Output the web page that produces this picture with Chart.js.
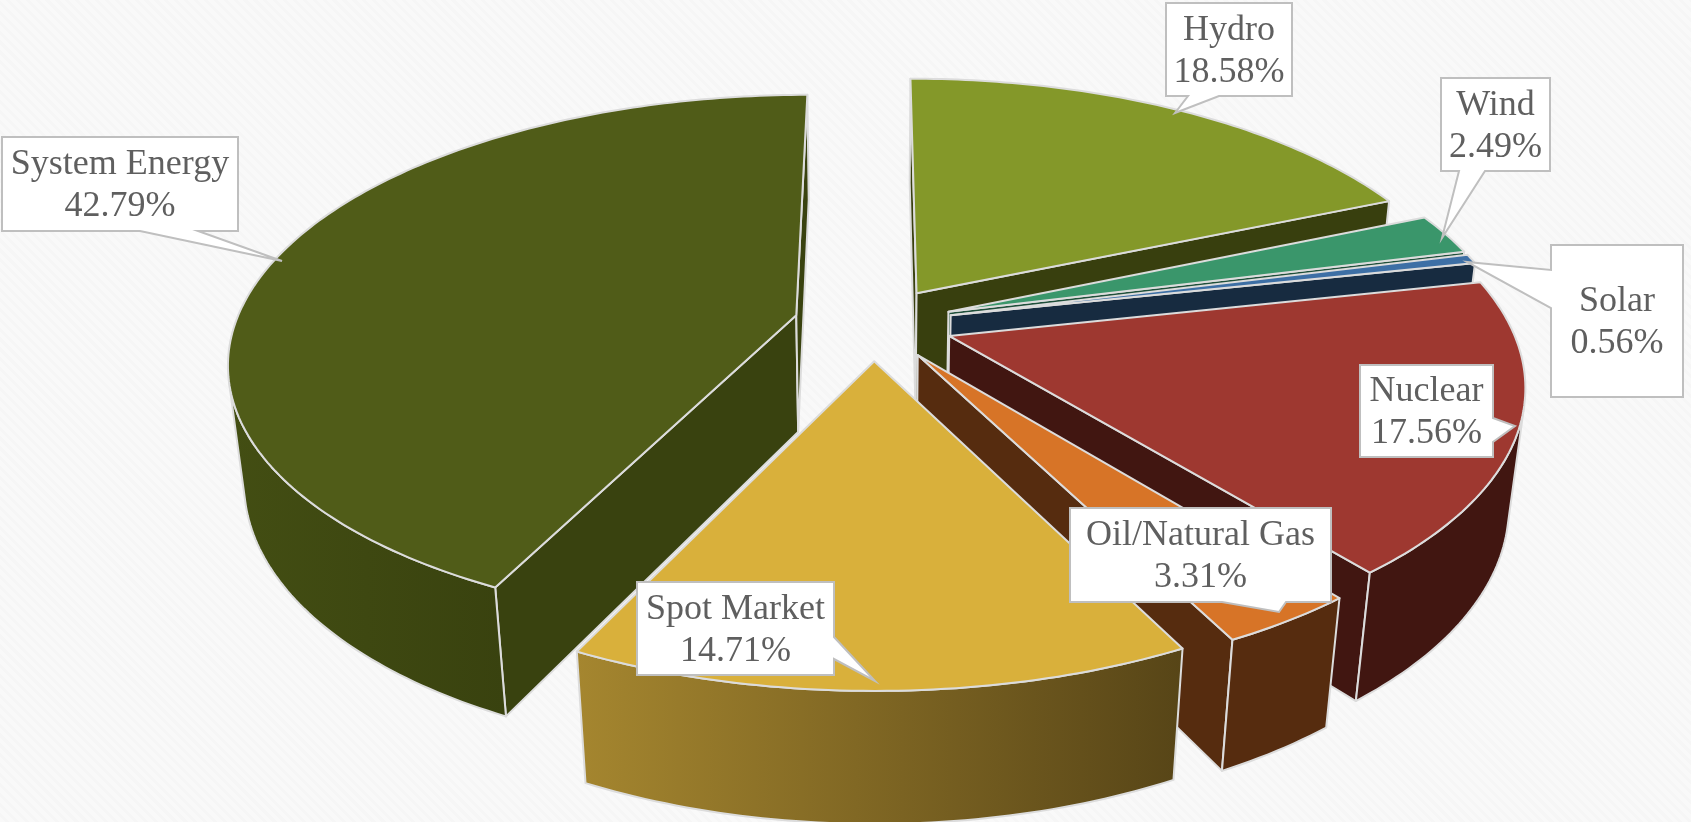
<!DOCTYPE html>
<html>
<head>
<meta charset="utf-8">
<title>Energy mix</title>
<script src="https://cdn.jsdelivr.net/npm/chart.js@4"></script>
<style>
  html, body { margin: 0; padding: 0; }
  body {
    background: repeating-linear-gradient(45deg, #f9f9f9 0, #f9f9f9 4px, #f6f6f6 4px, #f6f6f6 7px);
  }
  #wrap { width: 1691px; height: 822px; position: relative; }
</style>
</head>
<body>
<div id="wrap"><canvas id="mixChart"></canvas></div>
<script>
const sources = ["Hydro", "Wind", "Solar", "Nuclear", "Oil/Natural Gas", "Spot Market", "System Energy"];
const shares = [18.58, 2.49, 0.56, 17.56, 3.31, 14.71, 42.79];
const topColors = ["#849829", "#3a966b", "#3d6fa5", "#9e3830", "#d77427", "#d9b03b", "#505c18"];
const wallLeft = ["#383f0e", "#1f4f3a", "#172b40", "#411611", "#562c0f", "#a5862f", "#434e13"];
const wallRight = ["#383f0e", "#1f4f3a", "#172b40", "#411611", "#562c0f", "#574517", "#39420f"];

// callout boxes, same order as sources. side = edge the pointer leaves from
const callouts = [
  { x: 1166, y: 3, w: 126, h: 93, side: "bottom", from: 1219, to: 1188, tip: [1175, 113] },
  { x: 1441, y: 78, w: 109, h: 93, side: "bottom", from: 1485, to: 1459, tip: [1442, 238] },
  { x: 1551, y: 245, w: 132, h: 152, side: "left", from: 308, to: 270, tip: [1467, 262] },
  { x: 1360, y: 365, w: 133, h: 92, side: "right", from: 418, to: 442, tip: [1515, 426] },
  { x: 1070, y: 508, w: 261, h: 94, side: "bottom", from: 1286, to: 1222, tip: [1279, 612] },
  { x: 637, y: 582, w: 197, h: 93, side: "right", from: 637, to: 659, tip: [875, 681] },
  { x: 2, y: 137, w: 236, h: 94, side: "bottom", from: 198, to: 140, tip: [282, 261] }
];

// camera for the tilted pie
const view = { cx: 873.5, cy: 323.5, sx: 561, sy: 260, depth: 120, persp: 0.168, sink: 0.025 };

function project(x, y, z) {
  const w = 1 - view.persp * y + view.sink * z;
  return [view.cx + view.sx * x / w, view.cy + (view.sy * y + view.depth * z) / w];
}

function tracePath(ctx, pts) {
  ctx.beginPath();
  pts.forEach((p, i) => i ? ctx.lineTo(p[0], p[1]) : ctx.moveTo(p[0], p[1]));
  ctx.closePath();
}

function shoelace(pts) {
  let sum = 0;
  pts.forEach((p, i) => {
    const q = pts[(i + 1) % pts.length];
    sum += p[0] * q[1] - q[0] * p[1];
  });
  return sum;
}

function drawFace(ctx, pts, fill) {
  tracePath(ctx, pts);
  ctx.fillStyle = fill;
  ctx.fill();
  ctx.lineWidth = 2;
  ctx.lineJoin = "round";
  ctx.strokeStyle = "#dcdcdc";
  ctx.stroke();
}

function drawSlice(ctx, arc, i) {
  const start = arc.startAngle + Math.PI / 2;
  const end = arc.endAngle + Math.PI / 2;
  const mid = (start + end) / 2;
  const shift = arc.options.offset / arc.outerRadius;
  const ox = Math.sin(mid) * shift;
  const oy = -Math.cos(mid) * shift;

  const steps = Math.max(6, Math.round((end - start) * 60));
  const rim = [];
  for (let s = 0; s <= steps; s++) {
    const a = start + (end - start) * s / steps;
    rim.push([ox + Math.sin(a), oy - Math.cos(a)]);
  }

  const at = (p, z) => project(p[0], p[1], z);

  // the two cut faces, skipped when they turn away from the camera
  const inner = [[ox, oy], rim[0]];
  const cutA = [at(inner[0], 0), at(inner[1], 0), at(inner[1], 1), at(inner[0], 1)];
  const outer = [rim[steps], [ox, oy]];
  const cutB = [at(outer[0], 0), at(outer[1], 0), at(outer[1], 1), at(outer[0], 1)];
  if (shoelace(cutA) < 0) drawFace(ctx, cutA, wallRight[i]);
  if (shoelace(cutB) < 0) drawFace(ctx, cutB, wallRight[i]);

  // outer wall: only the run of segments that faces the camera
  const run = [];
  for (let s = 0; s < steps; s++) {
    const quad = [at(rim[s], 0), at(rim[s + 1], 0), at(rim[s + 1], 1), at(rim[s], 1)];
    if (shoelace(quad) < 0) run.push(s);
  }
  if (run.length) {
    const first = run[0];
    const last = run[run.length - 1] + 1;
    const wall = [];
    for (let s = first; s <= last; s++) wall.push(at(rim[s], 0));
    for (let s = last; s >= first; s--) wall.push(at(rim[s], 1));
    const xs = wall.map(p => p[0]);
    const grad = ctx.createLinearGradient(Math.min(...xs), 0, Math.max(...xs), 0);
    grad.addColorStop(0, wallLeft[i]);
    grad.addColorStop(1, wallRight[i]);
    drawFace(ctx, wall, grad);
  }

  const top = [at([ox, oy], 0)].concat(rim.map(p => at(p, 0)));
  drawFace(ctx, top, topColors[i]);
}

function calloutOutline(c) {
  const r = c.x + c.w;
  const b = c.y + c.h;
  const pts = [[c.x, c.y]];
  if (c.side === "top") pts.push([c.from, c.y], c.tip, [c.to, c.y]);
  pts.push([r, c.y]);
  if (c.side === "right") pts.push([r, c.from], c.tip, [r, c.to]);
  pts.push([r, b]);
  if (c.side === "bottom") pts.push([c.from, b], c.tip, [c.to, b]);
  pts.push([c.x, b]);
  if (c.side === "left") pts.push([c.x, c.from], c.tip, [c.x, c.to]);
  return pts;
}

function drawCallout(ctx, c, name, share) {
  tracePath(ctx, calloutOutline(c));
  ctx.fillStyle = "#ffffff";
  ctx.fill();
  ctx.lineWidth = 2;
  ctx.lineJoin = "miter";
  ctx.strokeStyle = "#bfbfbf";
  ctx.stroke();

  const cx = c.x + c.w / 2;
  const cy = c.y + c.h / 2;
  ctx.fillStyle = "#5f5f5f";
  ctx.font = "36px 'Liberation Serif'";
  ctx.textAlign = "center";
  ctx.textBaseline = "alphabetic";
  ctx.fillText(name, cx, cy - 10);
  ctx.fillText(share.toFixed(2) + "%", cx, cy + 32);
}

const pie3d = {
  id: "pie3d",
  // the flat arcs are replaced by extruded ones built from the same angles
  beforeDatasetsDraw(chart) {
    const ctx = chart.ctx;
    const arcs = chart.getDatasetMeta(0).data;
    const order = arcs.map((arc, i) => ({ arc, i }));
    const depthOf = a => -Math.cos((a.startAngle + a.endAngle) / 2 + Math.PI / 2);
    order.sort((a, b) => depthOf(a.arc) - depthOf(b.arc));
    ctx.save();
    order.forEach(o => drawSlice(ctx, o.arc, o.i));
    callouts.forEach((c, i) => drawCallout(ctx, c, sources[i], shares[i]));
    ctx.restore();
    return false;
  }
};

new Chart(document.getElementById("mixChart"), {
  type: "pie",
  data: {
    labels: sources,
    datasets: [{
      data: shares,
      backgroundColor: topColors,
      offset: 54.5,
      borderWidth: 0
    }]
  },
  options: {
    responsive: true,
    maintainAspectRatio: false,
    animation: false,
    plugins: {
      legend: { display: false },
      tooltip: { enabled: false }
    }
  },
  plugins: [pie3d]
});
</script>
</body>
</html>
